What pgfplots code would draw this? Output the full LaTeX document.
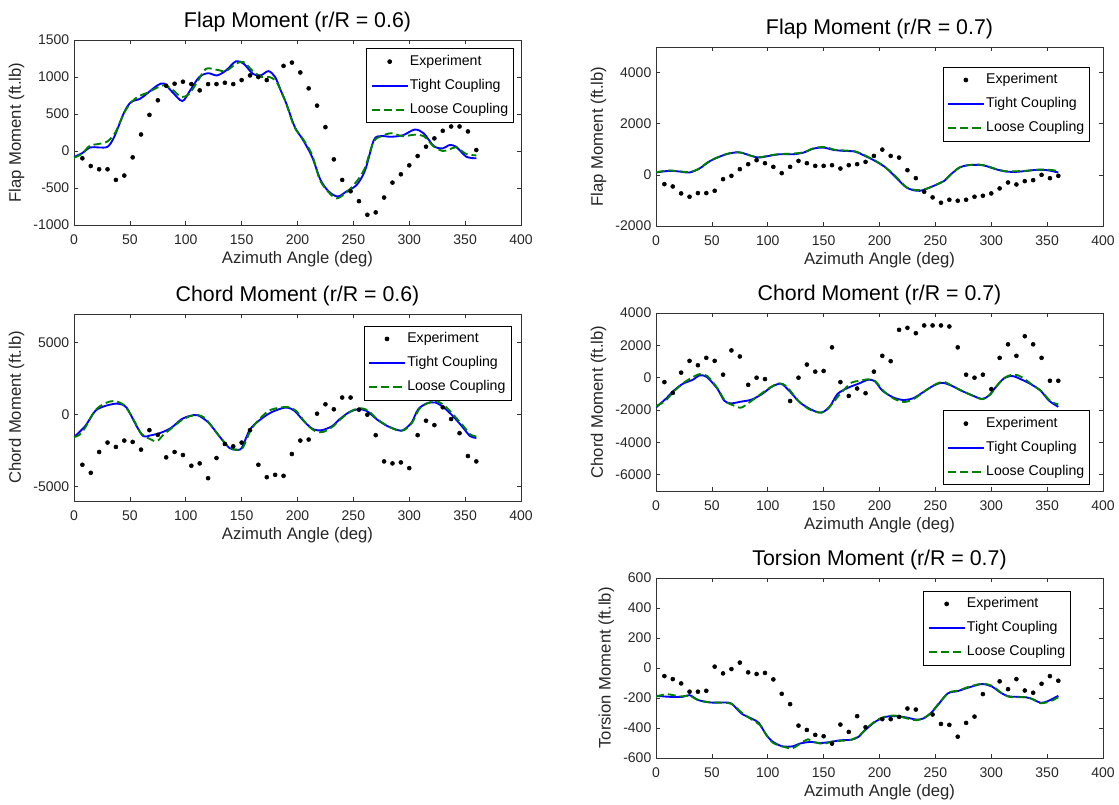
\documentclass[border=0pt]{standalone}
\usepackage{fontspec}
\setmainfont{Liberation Sans}
\usepackage{pgfplots}
\pgfplotsset{compat=1.18}

\definecolor{mblue}{rgb}{0,0,1}
\definecolor{mgreen}{rgb}{0,0.5,0}

\pgfplotsset{
  rotorpanel/.style={
    scale only axis, width=335.25pt,
    xmin=0, xmax=400, xtick={0,50,...,400},
    tick align=inside, tick pos=both, major tick length=3pt,
    axis line style={black!80, line width=0.5pt},
    every tick/.style={black!80, line width=0.5pt},
    /pgf/number format/assume math mode=true,
    /pgf/number format/1000 sep={},
    tick label style={font=\fontsize{10.5}{12}\selectfont, text=black!85},
    xticklabel style={anchor=base, yshift=-14.5pt},
    label style={font=\fontsize{12.5}{14}\selectfont, text=black!85},
    xlabel={Azimuth Angle (deg)},
    xlabel style={at={(axis description cs:0.5,0)}, anchor=base, yshift=-29pt},
    title style={at={(axis description cs:0.5,1)}, anchor=base, yshift=3.5pt,
                 font=\fontsize{16}{18}\selectfont},
    legend cell align=left,
    legend style={draw=black, line width=0.5pt, fill=white,
                  font=\fontsize{10.6}{12}\selectfont,
                  inner xsep=3pt, inner ysep=3.5pt, row sep=5.5pt,
                  nodes={inner sep=1pt, text height=8pt, text depth=2.5pt}},
    legend image code/.code={\draw[mark repeat=2,mark phase=2,#1]
      plot coordinates {(0pt,0pt) (13.5pt,0pt) (27pt,0pt)};},
  },
  expt/.style={only marks, mark=*, mark size=1.5pt, black},
  tight/.style={mblue, line width=1.4pt, smooth, no markers},
  loose/.style={mgreen, line width=1.4pt, dash pattern=on 6pt off 3pt, smooth, no markers},
}

\begin{document}
\begin{tikzpicture}
\useasboundingbox (0,0) rectangle (839.25pt,603.75pt);

% ---------------- Flap moment, r/R = 0.6 ----------------
\begin{axis}[rotorpanel, at={(55.5pt,573.75pt)}, anchor=north west, height=138.75pt,
  ymin=-1000, ymax=1500, ytick={-1000,-500,...,1500},
  ylabel={Flap Moment (ft.lb)}, title={Flap Moment (r/R = 0.6)},
  legend style={at={(0.984,0.955)}, anchor=north east}]
\addplot[expt] coordinates {
 (7.5,-99) (15,-203) (22.5,-247) (30,-247) (37.5,-391) (45,-332) (52.5,-86)
 (60,223) (67.5,488) (75,685) (82.5,882) (90,909) (97.5,936) (105,904)
 (112.5,819) (120,904) (127.5,904) (135,922) (142.5,904) (150,958) (157.5,1021)
 (165,999) (172.5,958) (187.5,1150) (195,1195) (202.5,1061) (210,846)
 (217.5,613) (225,322) (232.5,-113) (240,-391) (247.5,-544) (255,-678)
 (262.5,-862) (270,-830) (277.5,-629) (285,-427) (292.5,-315) (300,-194)
 (307.5,-68) (315,58) (322.5,170) (330,273) (337.5,331) (345,331) (352.5,264) (360,13)};
\addlegendentry{Experiment}
\addplot[tight] coordinates {
 (0,-80) (7,-32) (14.5,48) (22,48) (30,57) (36,190) (45,526) (51,660) (59,705)
 (65,772) (74.5,885) (80.5,912) (88,796) (97,675) (104,820) (112,998) (120,1051)
 (128,1021) (136,1088) (145,1213) (152,1177) (160,1043) (167,1021) (174,1079)
 (180,999) (185,819) (190,640) (197.5,326) (205,147) (213,-78) (220.6,-391)
 (228,-548) (236,-615) (243.7,-548) (253,-458) (260.6,-256) (268.3,147)
 (274.5,201) (283.7,192) (294.5,214) (305,290) (313,237) (322,66) (330,35)
 (336,80) (342,57) (351,-77) (360,-99)};
\addlegendentry{Tight Coupling}
\addplot[loose] coordinates {
 (0,-90) (7,-40) (14,70) (22,95) (30,130) (37,250) (45,520) (52,670) (58,740)
 (66,790) (75,860) (81,890) (88,830) (96,730) (103,770) (111,950) (118,1110)
 (127,1100) (136,1080) (145,1180) (152,1200) (160,1080) (168,1000) (175,1000)
 (181,940) (186,780) (190,640) (197,330) (205,160) (213,-50) (220,-390) (228,-560)
 (235,-640) (243,-570) (252,-430) (260,-240) (268,120) (275,200) (284,240)
 (294,200) (305,220) (313,200) (322,60) (330,0) (336,20) (342,50) (351,-40) (360,-60)};
\addlegendentry{Loose Coupling}
\end{axis}

% ---------------- Chord moment, r/R = 0.6 ----------------
\begin{axis}[rotorpanel, at={(55.5pt,368.25pt)}, anchor=north west, height=140.25pt,
  ymin=-6000, ymax=7000, ytick={-5000,0,5000},
  ylabel={Chord Moment (ft.lb)}, title={Chord Moment (r/R = 0.6)},
  legend style={at={(0.978,0.938)}, anchor=north east}]
\addplot[expt] coordinates {
 (7.5,-3481) (15,-4042) (22.5,-2593) (30,-1939) (37.5,-2243) (45,-1799)
 (52.5,-1893) (60,-2430) (67.5,-1075) (75,-1402) (82.5,-2967) (90,-2593)
 (97.5,-2804) (105,-3551) (112.5,-3388) (120,-4416) (127.5,-3014) (135,-2033)
 (142.5,-2200) (150,-1939) (157.5,-1075) (165,-3481) (172.5,-4346) (180,-4182)
 (187.5,-4252) (195,-2734) (202.5,-1799) (210,-1729) (217.5,70) (225,724)
 (232.5,374) (240,1192) (247.5,1192) (255,350) (262.5,0) (270,-1425)
 (277.5,-3248) (285,-3388) (292.5,-3318) (300,-3715) (307.5,-1425) (315,-421)
 (322.5,-724) (330,514) (337.5,-304) (345,-1285) (352.5,-2874) (360,-3248)};
\addlegendentry{Experiment}
\addplot[tight] coordinates {
 (0,-1560) (10,-794) (19,257) (28,607) (39,771) (47,490) (56,-794) (62,-1495)
 (68,-1449) (77.5,-1262) (87,-911) (96,-327) (104,-80) (111,-47) (120.5,-561)
 (130,-1495) (139,-2313) (145,-2430) (150,-2313) (157.5,-1028) (167,-327)
 (176,140) (185,420) (191,490) (197.5,257) (207,-561) (214.5,-1028) (222,-1075)
 (231,-794) (237.5,-327) (246.5,187) (254.5,374) (262,257) (271,-327)
 (280.5,-794) (290,-1075) (294.5,-1075) (302,-561) (308,374) (316,794)
 (323.5,841) (331,490) (339,-93) (347,-794) (354.5,-1495) (360,-1612)};
\addlegendentry{Tight Coupling}
\addplot[loose] coordinates {
 (0,-1560) (5,-1400) (10,-900) (19,300) (28,800) (36,950) (45,650) (53,-300)
 (60,-1300) (67,-1650) (74,-1850) (80,-1400) (88,-900) (96,-400) (104,-100)
 (111,-20) (118,-300) (128,-1300) (138,-2200) (145,-2450) (151,-2300)
 (158,-1100) (166,-300) (175,300) (185,500) (192,520) (199,250) (208,-650)
 (216,-1150) (223,-1200) (232,-800) (238,-350) (247,200) (255,450) (263,300)
 (271,-300) (281,-800) (290,-1100) (296,-1050) (303,-500) (309,400) (317,820)
 (325,920) (332,600) (340,-50) (348,-750) (355,-1400) (360,-1500)};
\addlegendentry{Loose Coupling}
\end{axis}

% ---------------- Flap moment, r/R = 0.7 ----------------
\begin{axis}[rotorpanel, at={(492pt,568.5pt)}, anchor=north west, height=134.25pt,
  ymin=-2000, ymax=5000, ytick={-2000,0,2000,4000},
  ylabel={Flap Moment (ft.lb)}, title={Flap Moment (r/R = 0.7)},
  legend style={at={(0.971,0.89)}, anchor=north east}]
\addplot[expt] coordinates {
 (7.5,-364) (15,-455) (22.5,-727) (30,-857) (37.5,-714) (45,-714) (52.5,-623)
 (60,-169) (67.5,-39) (75,221) (82.5,416) (90,571) (97.5,455) (105,312)
 (112.5,65) (120,312) (127.5,545) (135,455) (142.5,351) (150,351) (157.5,377)
 (165,247) (172.5,377) (180,416) (187.5,506) (195,740) (202.5,987) (210,740)
 (217.5,675) (225,182) (232.5,-130) (240,-662) (247.5,-883) (255,-1091)
 (262.5,-974) (270,-1013) (277.5,-974) (285,-857) (292.5,-818) (300,-727)
 (307.5,-532) (315,-299) (322.5,-377) (330,-247) (337.5,-208) (345,0)
 (352.5,-130) (360,-39)};
\addlegendentry{Experiment}
\addplot[tight] coordinates {
 (0,91) (11.7,156) (21,130) (29.5,91) (38,221) (48.6,545) (61,779) (70,870)
 (76,870) (85.5,740) (92,675) (101,740) (110,805) (122.5,805) (132,870)
 (141,1026) (150,1065) (159,974) (168.6,935) (178,909) (187,740) (196,545)
 (205.5,286) (214.8,-104) (224,-494) (233,-623) (239,-597) (248.6,-429)
 (258,-234) (264,26) (271.7,286) (279,377) (288.6,390) (294.8,351) (304,221)
 (313,130) (322.5,117) (331.7,156) (341,195) (350,182) (360,91)};
\addlegendentry{Tight Coupling}
\addplot[loose] coordinates {
 (0,100) (11,170) (20,140) (30,110) (38,230) (48,540) (60,770) (70,880) (77,860)
 (86,730) (93,690) (102,760) (111,810) (122,830) (132,880) (141,1040) (151,1090)
 (160,980) (169,950) (178,920) (187,760) (196,560) (205,300) (215,-80) (224,-480)
 (233,-600) (240,-570) (249,-420) (258,-220) (265,60) (272,300) (280,380)
 (289,400) (295,360) (304,230) (313,140) (322,140) (332,160) (341,200)
 (350,200) (357,170) (360,110)};
\addlegendentry{Loose Coupling}
\end{axis}

% ---------------- Chord moment, r/R = 0.7 ----------------
\begin{axis}[rotorpanel, at={(492pt,369pt)}, anchor=north west, height=133.5pt,
  ymin=-7000, ymax=4000, ytick={-6000,-4000,...,4000},
  ylabel={Chord Moment (ft.lb)}, title={Chord Moment (r/R = 0.7)},
  legend style={at={(0.971,0.034)}, anchor=south east}]
\addplot[expt] coordinates {
 (7.5,-271) (15,-938) (22.5,313) (30,1042) (37.5,771) (45,1229) (52.5,1042)
 (60,188) (67.5,1688) (75,1313) (82.5,-438) (90,0) (97.5,-83) (120,-1438)
 (127.5,0) (135,813) (142.5,375) (150,417) (157.5,1875) (165,-271)
 (172.5,-1125) (180,-667) (187.5,-958) (195,375) (202.5,1354) (210,1021)
 (217.5,2958) (225,3083) (232.5,2750) (240,3229) (247.5,3229) (255,3229)
 (262.5,3167) (270,1875) (277.5,188) (285,0) (292.5,188) (300,-708)
 (307.5,1229) (315,2063) (322.5,1354) (330,2563) (337.5,2063) (345,1229)
 (352.5,-188) (360,-188)};
\addlegendentry{Experiment}
\addplot[tight] coordinates {
 (0,-1833) (8.6,-1313) (16,-792) (24,-375) (33,-125) (39,146) (45.5,42)
 (55,-688) (61,-1417) (67,-1583) (76,-1479) (85.5,-1354) (95,-1000) (104,-542)
 (112,-375) (119,-792) (128.6,-1521) (138,-1938) (145.5,-2146) (150,-2104)
 (156,-1729) (162.5,-1000) (171.7,-625) (181,-375) (190,-125) (196,-229)
 (202.5,-792) (212,-1208) (221,-1375) (230,-1271) (239,-896) (248.6,-479)
 (256,-313) (264,-479) (273,-792) (282,-1063) (291.7,-1313) (297.8,-1104)
 (304,-583) (311.7,-21) (319,104) (325.5,-63) (334.8,-375) (344,-792)
 (351.7,-1417) (360,-1800)};
\addlegendentry{Tight Coupling}
\addplot[loose] coordinates {
 (0,-1750) (8,-1450) (16,-850) (24,-350) (32,0) (39,220) (46,100) (55,-650)
 (62,-1450) (69,-1700) (76,-1850) (83,-1550) (92,-1100) (101,-650) (110,-350)
 (117,-550) (127,-1400) (137,-1950) (146,-2150) (152,-2050) (159,-1500)
 (166,-900) (175,-300) (182,-200) (189,-100) (196,-200) (204,-850) (213,-1300)
 (222,-1500) (231,-1300) (240,-850) (249,-450) (257,-250) (265,-500) (274,-820)
 (283,-1100) (292,-1320) (299,-1050) (305,-500) (312,0) (320,200) (327,50)
 (336,-400) (345,-850) (353,-1450) (360,-1650)};
\addlegendentry{Loose Coupling}
\end{axis}

% ---------------- Torsion moment, r/R = 0.7 ----------------
\begin{axis}[rotorpanel, at={(492pt,170.25pt)}, anchor=north west, height=135pt,
  ymin=-600, ymax=600, ytick={-600,-400,...,600},
  ylabel={Torsion Moment (ft.lb)}, title={Torsion Moment (r/R = 0.7)},
  legend style={at={(0.928,0.93)}, anchor=north east}]
\addplot[expt] coordinates {
 (7.5,-54) (15,-74) (22.5,-103) (30,-158) (37.5,-158) (45,-152) (52.5,9)
 (60,-36) (67.5,-7) (75,36) (82.5,-29) (90,-40) (97.5,-33) (105,-76)
 (112.5,-172) (120,-241) (127.5,-384) (135,-413) (142.5,-446) (150,-455)
 (157.5,-504) (165,-377) (172.5,-426) (180,-321) (187.5,-395) (202.5,-341)
 (210,-341) (217.5,-326) (225,-270) (232.5,-277) (247.5,-310) (255,-373)
 (262.5,-379) (270,-458) (277.5,-366) (285,-324) (292.5,-174) (307.5,-89)
 (315,-141) (322.5,-74) (330,-150) (337.5,-165) (345,-105) (352.5,-54) (360,-85)};
\addlegendentry{Experiment}
\addplot[tight] coordinates {
 (0,-185) (11.7,-192) (24,-192) (30,-181) (38,-214) (48.6,-230) (61,-230)
 (67.5,-237) (76.6,-304) (85.5,-337) (92,-366) (98,-438) (104,-489) (113,-522)
 (122.5,-522) (128.6,-504) (138,-493) (147,-500) (156,-493) (165,-482)
 (174.8,-478) (181,-460) (187,-415) (196,-359) (205.5,-326) (214.8,-321)
 (224,-330) (233,-344) (239,-337) (245.5,-304) (251.7,-252) (261,-170)
 (270,-154) (279,-132) (291.7,-107) (301,-125) (307,-158) (314.8,-188)
 (322.5,-192) (331.7,-196) (337.8,-210) (344,-232) (350,-223) (360,-185)};
\addlegendentry{Tight Coupling}
\addplot[loose] coordinates {
 (0,-190) (10,-175) (22,-190) (30,-185) (38,-215) (48,-228) (60,-232) (68,-240)
 (77,-300) (86,-345) (93,-380) (99,-450) (105,-500) (114,-525) (122,-535)
 (130,-500) (136,-475) (142,-495) (150,-505) (158,-490) (166,-485) (175,-478)
 (182,-450) (188,-405) (197,-350) (206,-322) (215,-318) (224,-335) (233,-348)
 (240,-332) (246,-300) (252,-245) (262,-165) (271,-150) (280,-125) (292,-105)
 (301,-120) (308,-160) (316,-192) (323,-195) (332,-195) (338,-212) (344,-235)
 (350,-228) (355,-215) (360,-195)};
\addlegendentry{Loose Coupling}
\end{axis}
\end{tikzpicture}
\end{document}
